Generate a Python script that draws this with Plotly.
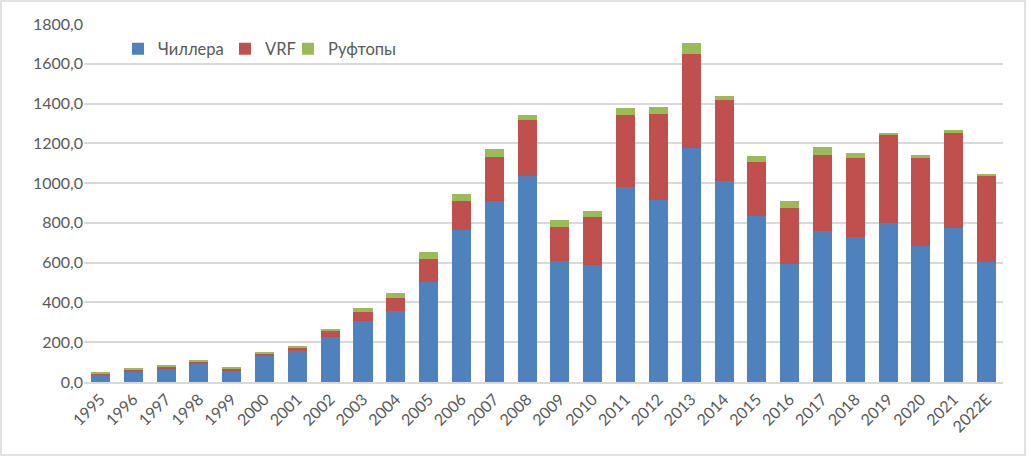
import plotly.graph_objects as go

years = ["1995","1996","1997","1998","1999","2000","2001","2002","2003","2004","2005",
         "2006","2007","2008","2009","2010","2011","2012","2013","2014","2015","2016",
         "2017","2018","2019","2020","2021","2022E"]
chillers = [40,55,70,95,60,130,155,225,305,355,502,765,910,1037,608,588,980,917,1178,1010,836,595,759,729,799,685,776,605]
vrf = [5,8,10,10,10,15,20,31,46,65,116,145,223,280,171,241,362,430,471,408,270,280,382,397,443,446,476,432]
rooftops = [3,3,5,7,5,7,7,12,20,26,35,35,38,25,35,31,36,36,55,20,30,35,40,25,10,10,16,10]

names = ["Чиллера", "VRF", "Руфтопы"]
colors = ["#4f81bd", "#c0504d", "#9bbb59"]
legend_ids = ["legend", "legend2", "legend3"]
legend_x_px = [118, 225, 288]

L, R, T, B = 84, 24, 24, 75
W, H = 1027, 457
pw, ph = W - L - R, H - T - B

font_col = "#595959"
fig = go.Figure()
for name, vals, col, lg in zip(names, [chillers, vrf, rooftops], colors, legend_ids):
    fig.add_trace(go.Bar(x=years, y=vals, name=name, legend=lg,
                         marker=dict(color=col, line=dict(width=0))))

legend_common = dict(orientation="h", y=0.93, xanchor="left", yanchor="middle",
                     font=dict(size=16.5, color=font_col), bgcolor="rgba(0,0,0,0)")
legends = {}
for lg, xp in zip(legend_ids, legend_x_px):
    legends[lg] = dict(legend_common, x=(xp - L) / pw)

fig.update_layout(
    barmode="stack",
    bargap=0.42,
    width=W, height=H,
    margin=dict(l=L, r=R, t=T, b=B),
    plot_bgcolor="white", paper_bgcolor="white",
    font=dict(family="Lato, Carlito, Calibri, sans-serif", size=16, color=font_col),
    showlegend=True,
    separators=", ",
    shapes=[dict(type="rect", xref="paper", yref="paper",
                 x0=-(L - 1) / pw, x1=1 + (R - 2) / pw, y0=-(B - 2) / ph, y1=1 + (T - 1) / ph,
                 line=dict(color="#d9d9d9", width=1.5), fillcolor="rgba(0,0,0,0)", layer="below")],
    **legends,
)
fig.update_xaxes(tickangle=-45, tickfont=dict(size=16, color=font_col), showgrid=False,
                 showline=True, linecolor="#d9d9d9", linewidth=1.5, ticks="")
fig.update_yaxes(range=[0, 1800], dtick=200, tickformat=".1f", showgrid=True,
                 gridcolor="#d9d9d9", gridwidth=1.5, zeroline=False, showline=False,
                 tickfont=dict(size=16, color=font_col), ticks="", ticklen=0)
fig.write_html("out.html")
